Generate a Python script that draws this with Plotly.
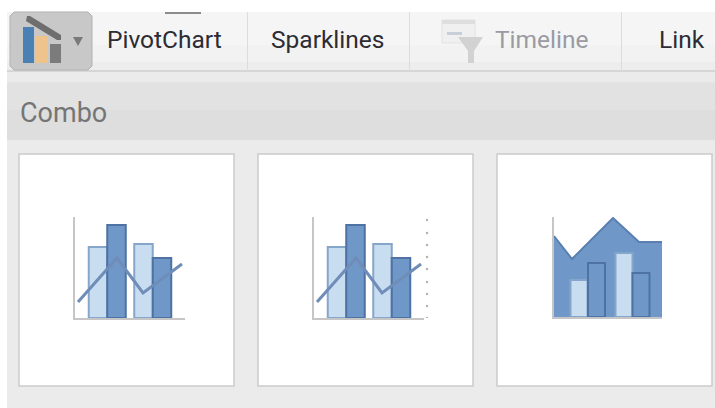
import plotly.graph_objects as go

W, H = 715, 408

# mini chart data
BAR_X = [23, 41.5, 68.5, 87]
BAR_VALUES = [71, 93, 74, 60]
LINE_X = [3, 42, 68, 107]
LINE_VALUES = [16, 60, 25, 54]
DOT_X = [7] * 9
DOT_LEVELS = [0, 12, 24, 36, 49, 61, 73, 85, 98]

AREA_X = [0, 18, 59, 85, 108]
AREA_VALUES = [81, 58, 99, 75, 75]
AREA_BAR_X = [25, 42.5, 70, 87]
AREA_BAR_VALUES = [37, 54, 64, 44]

RIBBON_LABELS = ['PivotChart', 'Sparklines', 'Timeline', 'Link']
RIBBON_LABEL_X = [164, 327, 541.5, 682]
RIBBON_LABEL_COLORS = ['#2c2c34', '#2c2c34', '#9a9aa2', '#2c2c34']

LIGHT, LIGHT_EDGE = '#c9ddf1', '#86a5cb'
DARK, DARK_EDGE = '#6f98c8', '#4d72a3'
LINE = '#6f8db8'
AXIS = '#c6c6c6'


def box(x0, y0, x1, y1, color, **kw):
    # pixel box, y counted from the top of the picture
    return dict(type='rect', xref='paper', yref='paper', x0=x0 / W, x1=x1 / W, y0=1 - y0 / H, y1=1 - y1 / H,
                fillcolor=color, line=kw.pop('line', dict(width=0)), layer='below', **kw)


def poly(points, color, line_color=None, line_width=0):
    path = 'M ' + ' L '.join(f'{x / W:.5f},{1 - y / H:.5f}' for x, y in points) + ' Z'
    return dict(type='path', xref='paper', yref='paper', path=path, fillcolor=color,
                line=dict(width=line_width, color=line_color or color), layer='below')


shapes = [
    box(7, 12, 715, 408, '#ebebeb'),
    # ribbon
    box(7, 12, 715, 45, '#f5f5f5'),
    box(7, 45, 715, 62, '#f2f2f2'),
    box(7, 62, 715, 70, '#ededed'),
    box(7, 70, 715, 72, '#d6d6d6'),
    # combo band
    box(7, 82, 715, 84, '#e4e4e4'),
    box(7, 84, 715, 110, '#e2e2e2'),
    box(7, 110, 715, 140, '#dedede'),
    # dividers
    box(247, 12, 248, 71, '#dcdcdc'),
    box(409, 12, 410, 71, '#dcdcdc'),
    box(621, 12, 622, 71, '#dcdcdc'),
    box(165, 12, 201, 14, '#8c8c8c'),
    # selected button
    poly([(14, 12), (88, 12), (92, 16), (92, 66), (88, 70), (14, 70), (10, 66), (10, 16)], '#c8c8c8', '#b2b2b2', 1),
    box(23, 27, 34, 63, '#4a80b4'),
    box(36, 36, 48, 63, '#eec48c'),
    box(50, 44, 61, 63, '#7b7b7b'),
    poly([(27, 16), (30, 16), (61, 35), (61, 40), (57, 40), (26, 21)], '#6e6e6e'),
    poly([(73, 37), (83, 37), (78, 46)], '#7a7a7a'),
    # timeline icon
    box(442, 20, 475, 43, '#f0f0f0', line=dict(width=1, color='#e2e2e2')),
    box(442, 20, 475, 24, '#dedede'),
    box(447, 32, 462, 35, '#c9cfd8'),
    poly([(458, 37), (483, 37), (474, 51), (474, 63), (468, 63), (468, 51)], '#d2d2d2'),
]
# cards
for x0, x1 in [(19, 234), (258, 473), (497, 712)]:
    shapes.append(box(x0, 154, x1, 386, '#ffffff', line=dict(width=1.5, color='#cccccc')))

fig = go.Figure()


def add_bars(x, y, xaxis, yaxis, width):
    # light and dark bars alternate
    fig.add_trace(go.Bar(
        x=x, y=y, width=width, xaxis=xaxis, yaxis=yaxis,
        marker=dict(color=[LIGHT, DARK, LIGHT, DARK], line=dict(width=2, color=[LIGHT_EDGE, DARK_EDGE, LIGHT_EDGE, DARK_EDGE])),
    ))


add_bars(BAR_X, BAR_VALUES, 'x', 'y', 18.5)
fig.add_trace(go.Scatter(x=LINE_X, y=LINE_VALUES, mode='lines', xaxis='x', yaxis='y', line=dict(color=LINE, width=3)))

add_bars(BAR_X, BAR_VALUES, 'x2', 'y2', 18.5)
fig.add_trace(go.Scatter(x=LINE_X, y=LINE_VALUES, mode='lines', xaxis='x2', yaxis='y2', line=dict(color=LINE, width=3)))
fig.add_trace(go.Scatter(x=DOT_X, y=DOT_LEVELS, mode='markers', xaxis='x5', yaxis='y5',
                         marker=dict(color='#b4b4b4', size=2.5)))

fig.add_trace(go.Scatter(x=AREA_X, y=AREA_VALUES, mode='lines', fill='tozeroy', fillcolor=DARK, xaxis='x3', yaxis='y3',
                         line=dict(color='#5a7fb0', width=2)))
# bars on their own axes, otherwise the area fill paints over them
add_bars(AREA_BAR_X, AREA_BAR_VALUES, 'x4', 'y4', 17)


def x_axis(x0, x1, anchor, **kw):
    return dict(domain=[x0 / W, x1 / W], range=[0, x1 - x0], anchor=anchor, showgrid=False, zeroline=False,
                showticklabels=False, ticks='', showline=True, linecolor=AXIS, linewidth=2, **kw)


def y_axis(y0, y1, anchor, **kw):
    return dict(domain=[1 - y0 / H, 1 - y1 / H], range=[0, y0 - y1], anchor=anchor, showgrid=False, zeroline=False,
                showticklabels=False, ticks='', showline=True, linecolor=AXIS, linewidth=2, **kw)


annotations = [
    dict(xref='paper', yref='paper', x=x / W, y=1 - 39 / H, text=label, showarrow=False, xanchor='center', yanchor='middle',
         font=dict(family='Roboto', size=24.5, color=color))
    for label, x, color in zip(RIBBON_LABELS, RIBBON_LABEL_X, RIBBON_LABEL_COLORS)
]
annotations.append(dict(xref='paper', yref='paper', x=18 / W, y=1 - 113 / H, text='Combo', showarrow=False,
                        xanchor='left', yanchor='middle', font=dict(family='Roboto', size=27, color='#757575')))

fig.update_layout(
    width=W, height=H, margin=dict(l=0, r=0, t=0, b=0),
    paper_bgcolor='#ffffff', plot_bgcolor='rgba(0,0,0,0)',
    showlegend=False, barmode='overlay',
    shapes=shapes, annotations=annotations,
    xaxis=x_axis(75, 185, 'y'), yaxis=y_axis(318, 217, 'x'),
    xaxis2=x_axis(314, 424, 'y2'), yaxis2=y_axis(318, 217, 'x2'),
    xaxis3=x_axis(554, 662, 'y3'), yaxis3=y_axis(317, 217, 'x3'),
    xaxis4=x_axis(554, 662, 'y4', visible=False), yaxis4=y_axis(317, 217, 'x4', visible=False),
    xaxis5=x_axis(420, 434, 'y5', visible=False), yaxis5=y_axis(318, 217, 'x5', visible=False),
)

fig.write_html("out.html", config=dict(displayModeBar=False), post_script="document.body.style.margin='0';")
